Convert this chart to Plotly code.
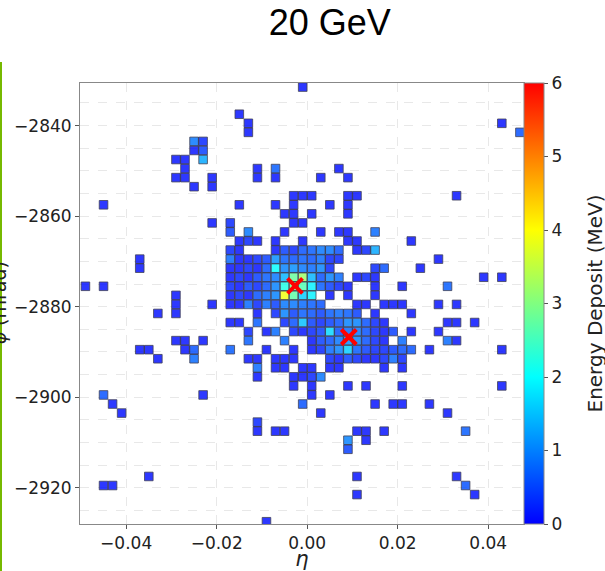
import plotly.graph_objects as go

# ---- data: calorimeter cells (eta, phi in mrad, energy in MeV), one line per phi row ----
phi_rows = [-2831.5, -2837.5, -2839.5, -2841.5, -2843.5, -2845.5, -2847.5, -2849.5,
            -2851.5, -2853.5, -2855.5, -2857.5, -2859.5, -2861.5, -2863.5, -2865.5,
            -2867.5, -2869.5, -2871.5, -2873.5, -2875.5, -2877.5, -2879.5, -2881.5,
            -2883.5, -2885.5, -2887.5, -2889.5, -2891.5, -2893.5, -2895.5, -2897.5,
            -2899.5, -2901.5, -2903.5, -2905.5, -2907.5, -2909.5, -2911.5, -2917.5,
            -2919.5, -2921.5, -2927.5]

eta_rows = [
    [-0.001],
    [-0.015],
    [-0.013, 0.043],
    [-0.013, 0.047],
    [-0.025, -0.023],
    [-0.025, -0.023],
    [-0.029, -0.027, -0.023],
    [-0.027, -0.011, -0.007, 0.007],
    [-0.029, -0.027, -0.021, -0.011, -0.007, 0.003, 0.009],
    [-0.025, -0.021],
    [-0.003, -0.001, 0.001, 0.009, 0.011, 0.033],
    [-0.045, -0.015, -0.007, -0.003, 0.005, 0.009],
    [-0.005, -0.003, 0.001, 0.009],
    [-0.021, -0.017, -0.003, -0.001],
    [-0.017, -0.013, -0.005, 0.003, 0.007, 0.009, 0.015],
    [-0.015, -0.013, -0.011, -0.007, -0.001, 0.009, 0.011, 0.023],
    [-0.017, -0.015, -0.007, -0.005, -0.003, -0.001, 0.001, 0.003, 0.005, 0.007, 0.011, 0.013, 0.015],
    [-0.037, -0.017, -0.015, -0.013, -0.011, -0.009, -0.007, -0.005, -0.003, -0.001, 0.001, 0.003, 0.005, 0.007, 0.029],
    [-0.037, -0.017, -0.015, -0.013, -0.011, -0.009, -0.007, -0.005, -0.003, -0.001, 0.001, 0.003, 0.005, 0.015, 0.017, 0.025],
    [-0.017, -0.015, -0.013, -0.011, -0.009, -0.007, -0.005, -0.003, -0.001, 0.001, 0.003, 0.005, 0.007, 0.011, 0.013, 0.015, 0.039, 0.043],
    [-0.049, -0.045, -0.017, -0.015, -0.013, -0.011, -0.009, -0.007, -0.005, -0.003, -0.001, 0.001, 0.003, 0.005, 0.007, 0.009, 0.015, 0.021, 0.031],
    [-0.029, -0.017, -0.015, -0.013, -0.011, -0.009, -0.007, -0.005, -0.003, -0.001, 0.001, 0.005, 0.009, 0.015],
    [-0.029, -0.021, -0.017, -0.015, -0.013, -0.011, -0.009, -0.007, -0.005, -0.003, -0.001, 0.001, 0.003, 0.011, 0.013, 0.017, 0.019, 0.021, 0.029, 0.033],
    [-0.033, -0.029, -0.011, -0.007, -0.005, -0.003, -0.001, 0.001, 0.003, 0.005, 0.007, 0.009, 0.011, 0.015, 0.023],
    [-0.017, -0.015, -0.011, -0.005, -0.003, -0.001, 0.001, 0.003, 0.005, 0.007, 0.009, 0.011, 0.013, 0.015, 0.017, 0.031, 0.033, 0.037],
    [-0.013, -0.009, -0.007, -0.003, -0.001, 0.001, 0.003, 0.005, 0.007, 0.009, 0.011, 0.013, 0.015, 0.017, 0.019, 0.023, 0.029],
    [-0.029, -0.027, -0.023, -0.013, -0.005, 0.001, 0.003, 0.005, 0.007, 0.009, 0.011, 0.013, 0.015, 0.017, 0.021, 0.031, 0.033],
    [-0.037, -0.035, -0.027, -0.025, -0.017, -0.009, -0.003, 0.001, 0.003, 0.005, 0.007, 0.009, 0.011, 0.013, 0.015, 0.017, 0.019, 0.021, 0.023, 0.027, 0.043],
    [-0.033, -0.025, -0.013, -0.011, -0.007, -0.005, -0.003, 0.005, 0.007, 0.009, 0.011, 0.013, 0.015, 0.017, 0.019, 0.021],
    [-0.011, -0.007, -0.005, -0.001, 0.001, 0.005, 0.007, 0.017, 0.021],
    [-0.011, -0.003, -0.001, 0.001, 0.003],
    [-0.003, 0.001, 0.009, 0.013, 0.021, 0.043],
    [-0.045, -0.023, 0.001, 0.005],
    [-0.043, -0.001, 0.015, 0.019, 0.021, 0.027],
    [-0.041, 0.003, 0.031],
    [-0.011],
    [-0.011, -0.007, -0.005, 0.011, 0.013, 0.017, 0.035],
    [0.009, 0.013],
    [0.009],
    [-0.035, 0.011, 0.033],
    [-0.045, -0.043, 0.035],
    [0.011, 0.037],
    [-0.009],
]

edep_rows = [
    [0.1],
    [0.1],
    [0.1, 0.1],
    [0.1, 0.6],
    [0.9, 0.25],
    [0.1, 0.45],
    [0.1, 0.1, 1.3],
    [0.1, 0.1, 0.7, 0.1],
    [0.1, 0.1, 0.1, 0.1, 0.1, 0.1, 0.1],
    [0.1, 0.1],
    [0.1, 0.1, 0.1, 0.1, 0.1, 0.1],
    [0.1, 0.1, 0.1, 0.1, 0.1, 0.1],
    [0.1, 0.1, 0.1, 0.1],
    [0.1, 0.25, 0.1, 0.1],
    [0.45, 0.9, 0.1, 0.1, 0.1, 0.1, 0.8],
    [0.1, 0.25, 0.1, 0.1, 0.1, 0.1, 0.1, 0.1],
    [0.25, 0.1, 0.1, 0.45, 0.25, 0.6, 0.7, 0.9, 0.9, 0.6, 0.1, 0.25, 1.3],
    [0.1, 0.8, 0.1, 0.1, 0.25, 0.45, 1.1, 0.7, 0.6, 0.7, 0.6, 0.8, 0.25, 0.25, 0.1],
    [0.1, 0.1, 0.1, 0.25, 0.1, 0.6, 2.0, 1.0, 1.1, 0.9, 0.8, 1.0, 0.25, 0.25, 0.6, 0.1],
    [0.1, 0.25, 0.1, 0.45, 0.7, 0.9, 1.4, 2.8, 3.2, 1.4, 0.6, 1.0, 0.8, 0.1, 0.25, 0.1, 0.1, 0.1],
    [0.1, 0.1, 0.25, 0.1, 0.45, 0.25, 0.6, 1.0, 2.2, 2.9, 2.6, 1.9, 0.7, 0.45, 0.25, 0.1, 0.1, 0.1, 0.7],
    [0.1, 0.1, 0.25, 0.1, 0.6, 0.8, 1.0, 3.9, 2.7, 1.6, 1.9, 0.1, 0.1, 0.1],
    [0.1, 0.1, 0.1, 0.1, 0.8, 0.25, 0.8, 0.45, 0.9, 0.9, 0.8, 0.7, 0.6, 0.1, 0.1, 0.1, 0.1, 0.1, 0.1, 0.1],
    [0.1, 0.1, 0.1, 0.25, 1.0, 0.45, 0.7, 0.6, 0.45, 0.7, 0.8, 0.7, 0.45, 0.1, 0.1],
    [0.1, 0.1, 0.7, 0.25, 0.6, 1.5, 0.45, 0.25, 0.45, 0.6, 1.0, 1.0, 0.6, 0.25, 0.1, 0.1, 0.1, 0.1],
    [0.25, 0.1, 0.8, 0.25, 0.1, 0.25, 0.45, 1.7, 0.6, 0.8, 0.9, 0.6, 0.25, 0.1, 0.45, 0.1, 0.1],
    [0.1, 0.1, 0.1, 0.7, 0.8, 0.1, 0.45, 0.6, 0.9, 1.1, 1.0, 0.6, 0.25, 0.1, 0.8, 0.8, 0.1],
    [0.1, 0.1, 0.1, 0.6, 0.7, 0.1, 0.1, 0.1, 0.25, 0.8, 1.0, 1.6, 0.7, 0.45, 0.25, 0.25, 0.45, 0.6, 0.6, 0.1, 0.1],
    [0.1, 0.8, 0.1, 0.1, 0.1, 0.1, 0.1, 0.25, 0.1, 0.45, 0.25, 0.1, 0.1, 0.25, 0.8, 0.25],
    [0.8, 0.1, 0.1, 0.1, 0.1, 0.1, 0.1, 0.1, 0.1],
    [0.1, 0.1, 0.1, 0.25, 0.9],
    [0.1, 0.1, 0.1, 0.1, 0.1, 0.1],
    [0.6, 0.1, 0.1, 0.1],
    [0.1, 0.6, 0.1, 0.1, 0.1, 0.1],
    [0.1, 0.1, 0.1],
    [0.25],
    [0.1, 0.1, 0.1, 0.1, 0.1, 0.1, 0.7],
    [1.0, 0.1],
    [0.45],
    [0.1, 0.1, 0.1],
    [0.1, 0.1, 0.6],
    [0.1, 0.1],
    [0.1],
]

# reconstructed shower centres (red crosses)
centre_eta = [-0.0027, 0.0092]
centre_phi = [-2875.4, -2886.7]

title_text = "20 GeV"
x_title = "<i>η</i>"
y_title = "<i>φ</i> (mrad)"
cbar_title = "Energy Deposit (MeV)"

# ---- flatten rows ----
eta, phi, edep = [], [], []
for p, er, dr in zip(phi_rows, eta_rows, edep_rows):
    assert len(er) == len(dr)
    for e, d in zip(er, dr):
        eta.append(e)
        phi.append(p)
        edep.append(d)

colorscale = [
    [0.0, "rgb(0,0,255)"],
    [1 / 3, "rgb(0,255,255)"],
    [0.5, "rgb(128,255,128)"],
    [2 / 3, "rgb(255,255,0)"],
    [1.0, "rgb(255,0,0)"],
]

W, H = 605, 571
L, R, T, B = 80, 81, 83, 47
pw = W - L - R
ph = H - T - B

fig = go.Figure()
fig.add_trace(go.Scatter(
    x=eta, y=phi, mode="markers",
    marker=dict(
        symbol="square", size=8.6, color=edep, cmin=0, cmax=6,
        colorscale=colorscale, opacity=0.82,
        line=dict(width=0.8, color="rgb(25,25,50)"),
        colorbar=dict(
            thickness=20, len=1, lenmode="fraction", y=0.5, yanchor="middle",
            x=1.0, xanchor="left", xpad=0, ypad=0,
            outlinewidth=1, outlinecolor="#888",
            tickmode="linear", tick0=0, dtick=1,
            ticks="outside", ticklen=4, tickcolor="#555",
            tickfont=dict(family="DejaVu Sans", size=17, color="#222"),
        ),
    ),
    showlegend=False, hoverinfo="skip",
))
fig.add_trace(go.Scatter(
    x=centre_eta, y=centre_phi, mode="markers",
    marker=dict(symbol="x-thin", size=15, line=dict(width=4, color="red"), color="red"),
    showlegend=False, hoverinfo="skip",
))

axis_common = dict(
    showline=True, mirror=True, linecolor="#888", linewidth=1,
    ticks="outside", ticklen=4, tickcolor="#555",
    tickfont=dict(family="DejaVu Sans", size=17, color="#222"),
    showgrid=True, gridcolor="#e8e8e8", griddash="dash", gridwidth=1,
    zeroline=False,
)

fig.update_layout(
    width=W, height=H,
    margin=dict(l=L, r=R, t=T, b=B, autoexpand=False),
    paper_bgcolor="white", plot_bgcolor="white",
    title=dict(text=title_text, x=(322 - L) / pw, xanchor="center",
               y=1 - 22 / H, yanchor="middle", yref="container",
               font=dict(family="Liberation Sans, Arial", size=36, color="black")),
    xaxis=dict(range=[-0.0502, 0.0479], tickmode="linear", tick0=0, dtick=0.02,
               tickformat=".2f",
               title=dict(text=x_title, standoff=8,
                          font=dict(family="DejaVu Sans", size=21, color="#222")),
               automargin=False, **axis_common),
    yaxis=dict(range=[-2928, -2830.6], tickmode="linear", tick0=0, dtick=20,
               minor=dict(tickmode="linear", tick0=0, dtick=5, showgrid=True,
                          gridcolor="#e8e8e8", griddash="dash", ticks=""),
               automargin=False, **axis_common),
    annotations=[
        dict(text=y_title, textangle=-90, xref="paper", yref="paper",
             x=(-2 - L) / pw, y=0.5, xanchor="center", yanchor="middle", showarrow=False,
             font=dict(family="DejaVu Sans", size=19, color="#222")),
        dict(text=cbar_title, textangle=-90, xref="paper", yref="paper",
             x=(594 - L) / pw, y=0.5, xanchor="center", yanchor="middle", showarrow=False,
             font=dict(family="DejaVu Sans", size=20, color="#222")),
    ],
    shapes=[dict(type="line", xref="paper", yref="paper",
                 x0=(1 - L) / pw, x1=(1 - L) / pw,
                 y0=(H - B - 62) / ph, y1=(H - B - H) / ph,
                 line=dict(color="rgb(118,185,0)", width=2))],
)

fig.write_html("out.html")
